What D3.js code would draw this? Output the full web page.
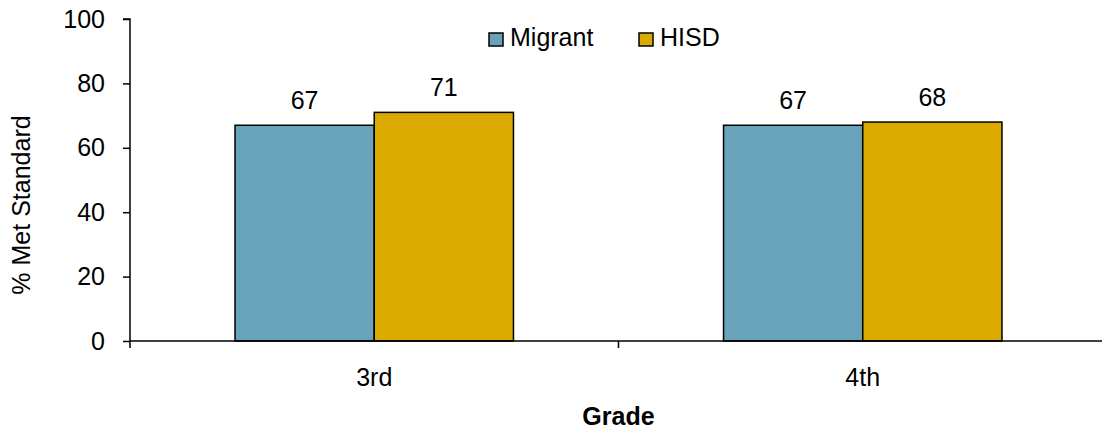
<!DOCTYPE html>
<html>
<head>
<meta charset="utf-8">
<script src="https://cdn.jsdelivr.net/npm/d3@7"></script>
<style>
  html, body { margin: 0; padding: 0; background: #fff; }
  svg { display: block; font-family: "Liberation Sans", Arial, sans-serif; }
</style>
</head>
<body>
<svg id="chart" width="1102" height="433"></svg>
<script>
// Percent of students meeting standard, by grade
const grades = ["3rd", "4th"];
const seriesNames = ["Migrant", "HISD"];
const migrantValues = [67, 67];
const hisdValues = [71, 68];
const yTicks = [0, 20, 40, 60, 80, 100];
const seriesColors = ["#68A3B9", "#DBAA00"];

const svg = d3.select("#chart");
const plotLeft = 130, plotRight = 1107, plotTop = 19, plotBottom = 341;
const fontSize = 25;

const y = d3.scaleLinear().domain([0, 100]).range([plotBottom, plotTop]);
const x = d3.scaleBand().domain(grades).range([plotLeft, plotRight]).paddingInner(0).paddingOuter(0);
const groupHalf = x.bandwidth() * 0.285;
const rows = grades.map((g, i) => ({ grade: g, values: [migrantValues[i], hisdValues[i]] }));

// Y axis
const yAxis = d3.axisLeft(y).tickValues(yTicks).tickSize(7).tickPadding(18).tickFormat(d3.format("d"));
const yg = svg.append("g").attr("transform", `translate(${plotLeft},0)`).call(yAxis);
yg.select(".domain").attr("d", `M-7,${plotTop}H0V${plotBottom + 7}`).attr("stroke", "#000").attr("stroke-width", 1.5).attr("fill", "none");
yg.selectAll(".tick line").attr("stroke", "#000").attr("stroke-width", 1.5);
yg.selectAll(".tick text").attr("font-size", fontSize).attr("fill", "#000").attr("font-family", "Liberation Sans, Arial, sans-serif");

// Bars
const groups = svg.append("g").selectAll("g").data(rows).join("g");
groups.each(function (d) {
  const c = x(d.grade) + x.bandwidth() / 2;
  const inner = d3.scaleBand().domain(seriesNames).range([c - groupHalf, c + groupHalf]);
  const g = d3.select(this);
  g.selectAll("rect").data(d.values).join("rect")
    .attr("x", (v, i) => inner(seriesNames[i]))
    .attr("y", v => y(v))
    .attr("width", inner.bandwidth())
    .attr("height", v => y(0) - y(v))
    .attr("fill", (v, i) => seriesColors[i])
    .attr("stroke", "#000")
    .attr("stroke-width", 1.5);
  g.selectAll("text").data(d.values).join("text")
    .attr("x", (v, i) => inner(seriesNames[i]) + inner.bandwidth() / 2)
    .attr("y", v => y(v) - 16)
    .attr("text-anchor", "middle")
    .attr("font-size", fontSize)
    .text(v => v);
});

// X axis: baseline with ticks between categories
const xg = svg.append("g");
xg.append("line").attr("x1", plotLeft).attr("x2", 1112).attr("y1", plotBottom).attr("y2", plotBottom)
  .attr("stroke", "#000").attr("stroke-width", 1.5);
xg.selectAll("line.tick").data(grades.slice(1)).join("line")
  .attr("class", "tick")
  .attr("x1", d => x(d)).attr("x2", d => x(d))
  .attr("y1", plotBottom).attr("y2", plotBottom + 7)
  .attr("stroke", "#000").attr("stroke-width", 1.5);
xg.selectAll("text").data(grades).join("text")
  .attr("x", d => x(d) + x.bandwidth() / 2)
  .attr("y", 386)
  .attr("text-anchor", "middle")
  .attr("font-size", fontSize)
  .text(d => d);

// Axis titles
svg.append("text").attr("x", (plotLeft + plotRight) / 2).attr("y", 425)
  .attr("text-anchor", "middle").attr("font-size", fontSize).attr("font-weight", "bold").text("Grade");
svg.append("text").attr("transform", "translate(30,205) rotate(-90)")
  .attr("text-anchor", "middle").attr("font-size", fontSize).text("% Met Standard");

// Legend
const legendX = [489, 639];
const legend = svg.append("g").selectAll("g").data(seriesNames).join("g")
  .attr("transform", (d, i) => `translate(${legendX[i]},33)`);
legend.append("rect").attr("width", 14).attr("height", 13)
  .attr("fill", (d, i) => seriesColors[i]).attr("stroke", "#000").attr("stroke-width", 1.5);
legend.append("text").attr("x", 21).attr("y", 13).attr("font-size", fontSize).text(d => d);
</script>
</body>
</html>
